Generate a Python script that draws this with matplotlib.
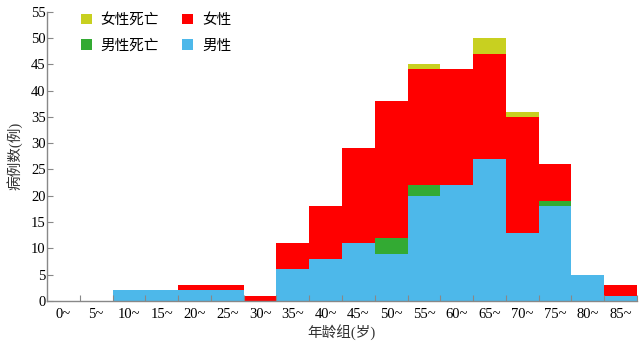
import matplotlib
matplotlib.use("Agg")
import matplotlib.pyplot as plt
import numpy as np

plt.rcParams['font.family'] = ['Liberation Serif', 'Noto Sans CJK SC', 'DejaVu Sans']

age_groups = ["0~", "5~", "10~", "15~", "20~", "25~", "30~", "35~", "40~",
              "45~", "50~", "55~", "60~", "65~", "70~", "75~", "80~", "85~"]
male = [0, 0, 2, 2, 2, 2, 0, 6, 8, 11, 9, 20, 22, 27, 13, 18, 5, 1]
male_death = [0, 0, 0, 0, 0, 0, 0, 0, 0, 0, 3, 2, 0, 0, 0, 1, 0, 0]
female = [0, 0, 0, 0, 1, 1, 1, 5, 10, 18, 26, 22, 22, 20, 22, 7, 0, 2]
female_death = [0, 0, 0, 0, 0, 0, 0, 0, 0, 0, 0, 1, 0, 3, 1, 0, 0, 0]

c_male = "#4db8ea"
c_male_d = "#33aa33"
c_female = "#ff0000"
c_female_d = "#c8d020"

fig = plt.figure(figsize=(6.44, 3.42), dpi=100)
ax = fig.add_axes([0.073, 0.12, 0.916, 0.846])

x = np.arange(len(age_groups))
m = np.array(male)
md = np.array(male_death)
f = np.array(female)
fd = np.array(female_death)

kw = dict(width=1.0, align='edge', linewidth=0)
b_m = ax.bar(x, m, color=c_male, **kw)
b_md = ax.bar(x, md, bottom=m, color=c_male_d, **kw)
b_f = ax.bar(x, f, bottom=m + md, color=c_female, **kw)
b_fd = ax.bar(x, fd, bottom=m + md + f, color=c_female_d, **kw)

ax.set_xlim(0, len(age_groups))
ax.set_ylim(0, 55)
ax.set_yticks(np.arange(0, 56, 5))
ax.set_xticks(np.arange(0, len(age_groups) + 1), minor=False)
ax.set_xticklabels([])
ax.set_xticks(x + 0.5, minor=True)
ax.set_xticklabels(age_groups, minor=True)
ax.tick_params(axis='x', which='minor', length=0, pad=5, labelsize=10.5)
ax.tick_params(axis='x', which='major', direction='in', length=4, color='#888888')
ax.tick_params(axis='y', direction='in', length=4, color='#888888', labelsize=10.5, pad=1)

for s in ['top', 'right']:
    ax.spines[s].set_visible(False)
for s in ['left', 'bottom']:
    ax.spines[s].set_color('#888888')
    ax.spines[s].set_linewidth(1.0)

ax.set_ylabel("病例数(例)", fontsize=10.5, color='#333333', labelpad=6)
ax.set_xlabel("年龄组(岁)", fontsize=10.5, color='#333333', labelpad=2)

handles = [b_fd, b_md, b_f, b_m]
labels = ["女性死亡", "男性死亡", "女性", "男性"]
ax.legend(handles, labels, ncol=2, loc='upper left', bbox_to_anchor=(0.035, 1.04),
          frameon=False, fontsize=10.5, handlelength=0.75, handleheight=0.75,
          columnspacing=1.6, labelspacing=0.85, handletextpad=0.6)

fig.savefig("out.png", dpi=100)
